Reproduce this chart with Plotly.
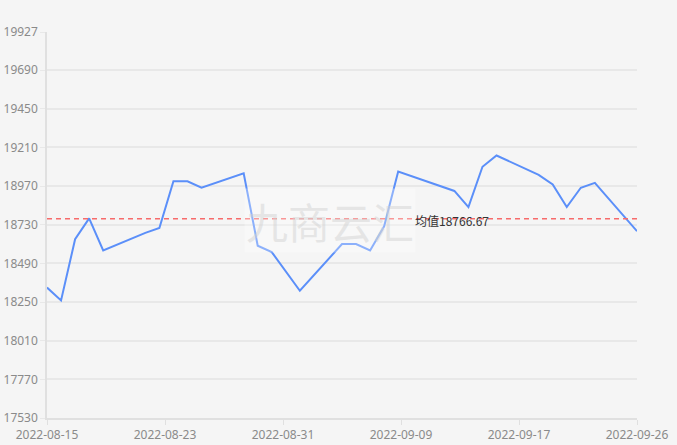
import plotly.graph_objects as go
from datetime import datetime

dates = ["2022-08-15", "2022-08-16", "2022-08-17", "2022-08-18", "2022-08-19",
         "2022-08-22", "2022-08-23", "2022-08-24", "2022-08-25", "2022-08-26",
         "2022-08-29", "2022-08-30", "2022-08-31", "2022-09-01", "2022-09-02",
         "2022-09-05", "2022-09-06", "2022-09-07", "2022-09-08", "2022-09-09",
         "2022-09-13", "2022-09-14", "2022-09-15", "2022-09-16",
         "2022-09-19", "2022-09-20", "2022-09-21", "2022-09-22", "2022-09-23",
         "2022-09-26"]
prices = [18340, 18260, 18640, 18770, 18570,
          18680, 18710, 19000, 19000, 18960,
          19050, 18600, 18560, 18440, 18320,
          18610, 18610, 18570, 18720, 19060,
          18940, 18840, 19090, 19160,
          19040, 18980, 18840, 18960, 18990,
          18690]
y_ticks = [17530, 17770, 18010, 18250, 18490, 18730, 18970, 19210, 19450, 19690, 19927]
x_tick_labels = ["2022-08-15", "2022-08-23", "2022-08-31", "2022-09-09", "2022-09-17", "2022-09-26"]

mean_val = sum(prices) / len(prices)
mean_label = "均值" + f"{mean_val:.2f}"

# linear time axis ticks split evenly between first and last date
d0 = datetime.strptime(dates[0], "%Y-%m-%d")
d1 = datetime.strptime(dates[-1], "%Y-%m-%d")
n = len(x_tick_labels) - 1
tick_pos = [(d0 + (d1 - d0) * i / n).strftime("%Y-%m-%d %H:%M:%S") for i in range(n + 1)]

fig = go.Figure()
fig.add_trace(go.Scatter(
    x=dates, y=prices, mode="lines",
    line=dict(color="#5b8ff9", width=2),
    hoverinfo="x+y", showlegend=False,
))
fig.add_trace(go.Scatter(
    x=[dates[0], dates[-1]], y=[mean_val, mean_val], mode="lines",
    line=dict(color="#f76b6b", width=1.5, dash="5px,4px"),
    hoverinfo="skip", showlegend=False,
))

fig.add_annotation(
    text="九商云汇", xref="paper", yref="paper", x=0.479, y=0.511,
    xanchor="center", yanchor="middle",
    showarrow=False, font=dict(size=42, color="rgba(210,210,210,0.5)", family="Noto Sans CJK SC"),
    bgcolor="rgba(255,255,255,0.3)",
)
fig.add_annotation(
    text=mean_label, xref="paper", yref="y", x=0.686, y=mean_val,
    xanchor="center", yanchor="middle",
    showarrow=False, yshift=-2,
    font=dict(size=12, color="#333333", family="Noto Sans CJK SC"),
)

fig.update_layout(
    width=677, height=445,
    margin=dict(l=47, r=40, t=32, b=27, autoexpand=False),
    paper_bgcolor="#f5f5f5", plot_bgcolor="#f5f5f5",
    font=dict(family="Noto Sans, Noto Sans CJK SC", size=12, color="#8a8a8a"),
    xaxis=dict(
        type="date", range=[d0.strftime("%Y-%m-%d"), d1.strftime("%Y-%m-%d")],
        tickvals=tick_pos, ticktext=x_tick_labels,
        showgrid=False, zeroline=False, automargin=False,
        showline=True, linecolor="#e0e0e0", linewidth=1.5,
        ticks="outside", ticklen=5, tickcolor="#e0e0e0",
        tickfont=dict(size=12, color="#8a8a8a"),
    ),
    yaxis=dict(
        range=[y_ticks[0], y_ticks[-1]], tickvals=y_ticks,
        ticktext=[str(v) for v in y_ticks], automargin=False,
        showgrid=True, gridcolor="#e8e8e8", gridwidth=1.5,
        zeroline=False, showline=True, linecolor="#e0e0e0", linewidth=1.5,
        ticks="outside", ticklen=5, tickcolor="#e8e8e8",
        tickfont=dict(size=12, color="#8a8a8a"),
    ),
)

fig.write_html("out.html", config={"displayModeBar": False},
               post_script="document.body.style.margin='0';")
